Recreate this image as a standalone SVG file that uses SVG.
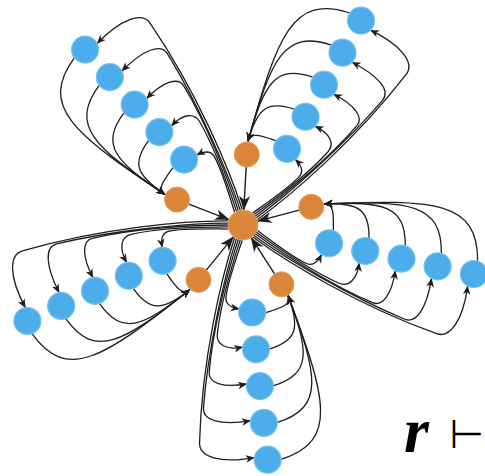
<svg xmlns="http://www.w3.org/2000/svg" width="485" height="476" viewBox="0 0 485 476">
<style>
.e{fill:none;stroke:#1e1e1e;stroke-width:1.3}
.s{marker-end:url(#a)}
.h{fill:none;stroke:#1e1e1e;stroke-width:1.4;marker-end:url(#A)}
.b{fill:#4dadea;stroke:#74c1f0;stroke-width:1.2}
.o{fill:#db863a;stroke:#e39a55;stroke-width:1}
.t{font-family:"Liberation Serif",serif;font-weight:bold;font-style:italic;font-size:64px;fill:#000}
.m{font-family:"DejaVu Sans",sans-serif;font-size:40px;fill:#000;text-anchor:end}
</style>
<defs>
<marker id="a" viewBox="-10 -5 11 10" refX="0" refY="0" markerWidth="11" markerHeight="10" markerUnits="userSpaceOnUse" orient="auto">
<path d="M0.5,0 L-8.5,-3.8 L-6,0 L-8.5,3.8 Z" fill="#1e1e1e"/>
</marker>
<marker id="A" viewBox="-16 -7 17 14" refX="0" refY="0" markerWidth="17" markerHeight="14" markerUnits="userSpaceOnUse" orient="auto">
<path d="M0.5,0 L-14,-5.5 L-10,0 L-14,5.5 Z" fill="#1e1e1e"/>
</marker>
</defs>
<g id="connectors">
<g transform="translate(243 225) rotate(12)">
<path class="e s" d="M15.3,2.4 C38,12.8 56,21.5 70,24.5 C77,26 81,20 83,12.5"/>
<path class="e s" d="M14.5,4.3 C43,17 78,31 106,37 C116,39 123,30 121.5,13.1"/>
<path class="e s" d="M13.7,6.1 C46,20.5 100,41 143,49 C153,51 160,38 158.5,13.1"/>
<path class="e s" d="M12.9,7.9 C48,23.5 120,48 178,58.5 C190,60.5 197,44 195.5,13.1"/>
<path class="e s" d="M12.1,9.8 C50,27 130,55 212,66 C226,68 235,48 232.5,13.1"/>
<path class="e s" d="M89.5,-13.5 C86.3,-29.2 84.7,-40 75,-37.5"/>
<path class="e s" d="M126,-13.5 C120.4,-41 109,-46.25 75,-37.5"/>
<path class="e s" d="M163,-13.5 C155,-52.7 133.2,-52.5 75,-37.5"/>
<path class="e s" d="M200,-13.5 C190,-62.5 157.5,-58.75 75,-37.5"/>
<path class="e s" d="M237,-13.5 C225,-72.3 181.7,-65 75,-37.5"/>
<path class="h" d="M51.9,-26.3 L13.4,-6.8"/>
</g>
<g transform="translate(243 225) rotate(84)">
<path class="e s" d="M15.3,2.4 C38,12.8 56,21.5 70,24.5 C77,26 81,20 83,12.5"/>
<path class="e s" d="M14.5,4.3 C43,17 78,31 106,37 C116,39 123,30 121.5,13.1"/>
<path class="e s" d="M13.7,6.1 C46,20.5 100,41 143,49 C153,51 160,38 158.5,13.1"/>
<path class="e s" d="M12.9,7.9 C48,23.5 120,48 178,58.5 C190,60.5 197,44 195.5,13.1"/>
<path class="e s" d="M12.1,9.8 C50,27 130,55 212,66 C226,68 235,48 232.5,13.1"/>
<path class="e s" d="M89.5,-13.5 C86.3,-29.2 84.7,-40 75,-37.5"/>
<path class="e s" d="M126,-13.5 C120.4,-41 109,-46.25 75,-37.5"/>
<path class="e s" d="M163,-13.5 C155,-52.7 133.2,-52.5 75,-37.5"/>
<path class="e s" d="M200,-13.5 C190,-62.5 157.5,-58.75 75,-37.5"/>
<path class="e s" d="M237,-13.5 C225,-72.3 181.7,-65 75,-37.5"/>
<path class="h" d="M51.9,-26.3 L13.4,-6.8"/>
</g>
<g transform="translate(243 225) rotate(156)">
<path class="e s" d="M15.3,2.4 C38,12.8 56,21.5 70,24.5 C77,26 81,20 83,12.5"/>
<path class="e s" d="M14.5,4.3 C43,17 78,31 106,37 C116,39 123,30 121.5,13.1"/>
<path class="e s" d="M13.7,6.1 C46,20.5 100,41 143,49 C153,51 160,38 158.5,13.1"/>
<path class="e s" d="M12.9,7.9 C48,23.5 120,48 178,58.5 C190,60.5 197,44 195.5,13.1"/>
<path class="e s" d="M12.1,9.8 C50,27 130,55 212,66 C226,68 235,48 232.5,13.1"/>
<path class="e s" d="M89.5,-13.5 C86.3,-29.2 84.7,-40 75,-37.5"/>
<path class="e s" d="M126,-13.5 C120.4,-41 109,-46.25 75,-37.5"/>
<path class="e s" d="M163,-13.5 C155,-52.7 133.2,-52.5 75,-37.5"/>
<path class="e s" d="M200,-13.5 C190,-62.5 157.5,-58.75 75,-37.5"/>
<path class="e s" d="M237,-13.5 C225,-72.3 181.7,-65 75,-37.5"/>
<path class="h" d="M51.9,-26.3 L13.4,-6.8"/>
</g>
<g transform="translate(243 225) rotate(228)">
<path class="e s" d="M15.3,2.4 C38,12.8 56,21.5 70,24.5 C77,26 81,20 83,12.5"/>
<path class="e s" d="M14.5,4.3 C43,17 78,31 106,37 C116,39 123,30 121.5,13.1"/>
<path class="e s" d="M13.7,6.1 C46,20.5 100,41 143,49 C153,51 160,38 158.5,13.1"/>
<path class="e s" d="M12.9,7.9 C48,23.5 120,48 178,58.5 C190,60.5 197,44 195.5,13.1"/>
<path class="e s" d="M12.1,9.8 C50,27 130,55 212,66 C226,68 235,48 232.5,13.1"/>
<path class="e s" d="M89.5,-13.5 C86.3,-29.2 84.7,-40 75,-37.5"/>
<path class="e s" d="M126,-13.5 C120.4,-41 109,-46.25 75,-37.5"/>
<path class="e s" d="M163,-13.5 C155,-52.7 133.2,-52.5 75,-37.5"/>
<path class="e s" d="M200,-13.5 C190,-62.5 157.5,-58.75 75,-37.5"/>
<path class="e s" d="M237,-13.5 C225,-72.3 181.7,-65 75,-37.5"/>
<path class="h" d="M51.9,-26.3 L13.4,-6.8"/>
</g>
<g transform="translate(243 225) rotate(300)">
<path class="e s" d="M15.3,2.4 C38,12.8 56,21.5 70,24.5 C77,26 81,20 83,12.5"/>
<path class="e s" d="M14.5,4.3 C43,17 78,31 106,37 C116,39 123,30 121.5,13.1"/>
<path class="e s" d="M13.7,6.1 C46,20.5 100,41 143,49 C153,51 160,38 158.5,13.1"/>
<path class="e s" d="M12.9,7.9 C48,23.5 120,48 178,58.5 C190,60.5 197,44 195.5,13.1"/>
<path class="e s" d="M12.1,9.8 C50,27 130,55 212,66 C226,68 235,48 232.5,13.1"/>
<path class="e s" d="M89.5,-13.5 C86.3,-29.2 84.7,-40 75,-37.5"/>
<path class="e s" d="M126,-13.5 C120.4,-41 109,-46.25 75,-37.5"/>
<path class="e s" d="M163,-13.5 C155,-52.7 133.2,-52.5 75,-37.5"/>
<path class="e s" d="M200,-13.5 C190,-62.5 157.5,-58.75 75,-37.5"/>
<path class="e s" d="M237,-13.5 C225,-72.3 181.7,-65 75,-37.5"/>
<path class="h" d="M51.9,-26.3 L13.4,-6.8"/>
</g>
</g>
<g id="center"><circle class="o" cx="243" cy="225" r="15"/></g>
<g id="hub-right"><circle class="o" cx="311.27" cy="206.8" r="12.5"/></g>
<g id="hub-bottom"><circle class="o" cx="281.41" cy="284.31" r="12.5"/></g>
<g id="hub-left"><circle class="o" cx="198.47" cy="279.85" r="12.5"/></g>
<g id="hub-upleft"><circle class="o" cx="177.06" cy="199.59" r="12.5"/></g>
<g id="hub-upright"><circle class="o" cx="246.79" cy="154.44" r="12.5"/></g>
<g id="right-1"><circle class="b" cx="329.08" cy="243.3" r="13.5"/></g>
<g id="right-2"><circle class="b" cx="365.27" cy="250.99" r="13.5"/></g>
<g id="right-3"><circle class="b" cx="401.46" cy="258.68" r="13.5"/></g>
<g id="right-4"><circle class="b" cx="437.65" cy="266.37" r="13.5"/></g>
<g id="right-5"><circle class="b" cx="473.84" cy="274.07" r="13.5"/></g>
<g id="bottom-1"><circle class="b" cx="252.2" cy="312.52" r="13.5"/></g>
<g id="bottom-2"><circle class="b" cx="256.07" cy="349.32" r="13.5"/></g>
<g id="bottom-3"><circle class="b" cx="259.93" cy="386.11" r="13.5"/></g>
<g id="bottom-4"><circle class="b" cx="263.8" cy="422.91" r="13.5"/></g>
<g id="bottom-5"><circle class="b" cx="267.67" cy="459.71" r="13.5"/></g>
<g id="left-1"><circle class="b" cx="162.61" cy="260.79" r="13.5"/></g>
<g id="left-2"><circle class="b" cx="128.81" cy="275.84" r="13.5"/></g>
<g id="left-3"><circle class="b" cx="95.01" cy="290.89" r="13.5"/></g>
<g id="left-4"><circle class="b" cx="61.2" cy="305.94" r="13.5"/></g>
<g id="left-5"><circle class="b" cx="27.4" cy="320.99" r="13.5"/></g>
<g id="upleft-1"><circle class="b" cx="184.12" cy="159.6" r="13.5"/></g>
<g id="upleft-2"><circle class="b" cx="159.36" cy="132.11" r="13.5"/></g>
<g id="upleft-3"><circle class="b" cx="134.6" cy="104.61" r="13.5"/></g>
<g id="upleft-4"><circle class="b" cx="109.84" cy="77.12" r="13.5"/></g>
<g id="upleft-5"><circle class="b" cx="85.09" cy="49.62" r="13.5"/></g>
<g id="upright-1"><circle class="b" cx="287" cy="148.79" r="13.5"/></g>
<g id="upright-2"><circle class="b" cx="305.5" cy="116.75" r="13.5"/></g>
<g id="upright-3"><circle class="b" cx="324" cy="84.7" r="13.5"/></g>
<g id="upright-4"><circle class="b" cx="342.5" cy="52.66" r="13.5"/></g>
<g id="upright-5"><circle class="b" cx="361" cy="20.62" r="13.5"/></g>
<g id="label">
<text class="t" x="404" y="452">r</text>
<text class="m" x="484" y="448">⊢</text>
</g>
</svg>
